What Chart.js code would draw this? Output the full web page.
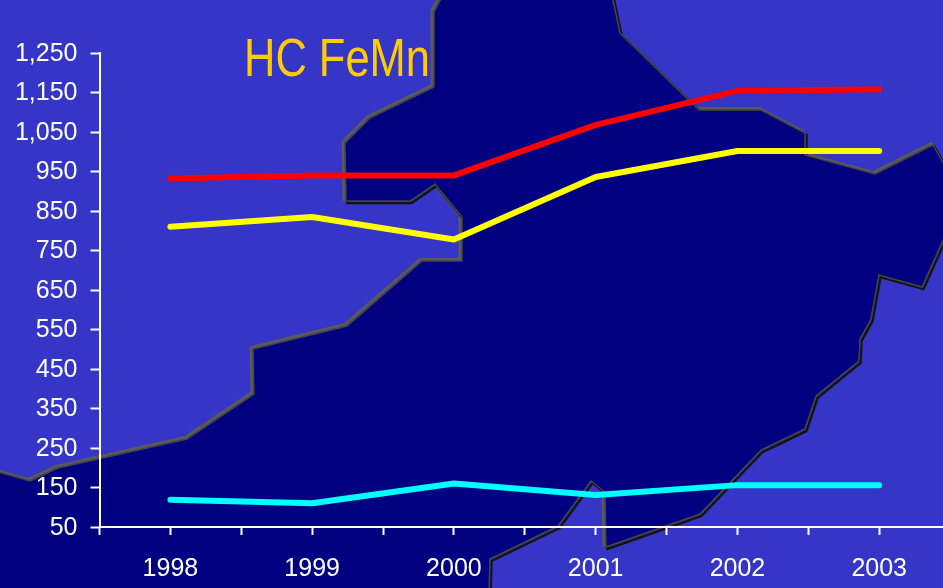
<!DOCTYPE html>
<html>
<head>
<meta charset="utf-8">
<title>HC FeMn</title>
<script src="https://cdn.jsdelivr.net/npm/chart.js@4/dist/chart.umd.min.js"></script>
<style>
  html, body { margin: 0; padding: 0; background: #3535c8; overflow: hidden; }
  canvas { display: block; }
</style>
</head>
<body>
<canvas id="chart" width="943" height="588"></canvas>
<script>
const chartTitle = 'HC FeMn'
const years = [1998, 1999, 2000, 2001, 2002, 2003]
const redSeries = [932, 940, 940, 1068, 1154, 1158]
const yellowSeries = [810, 835, 778, 936, 1002, 1002]
const cyanSeries = [119, 110, 160, 131, 156, 156]

// backdrop map, in canvas pixels (decoration only, not data)
const mapOutline = [
  [443,-5],[434,12],[434,87],[370,118],[345,143],[346,201],[410,201],[435,184],[462,217],[462,261],
  [422,261],[347,326],[253,349],[254,394],[187,439],[58,468],[30,481],[-5,471],[-5,595],[489,595],
  [490,559],[558,526],[591,481],[605,492],[606,547],[700,514],[761,450],[805,429],[816,396],[859,361],
  [860,339],[871,319],[879,275],[922,287],[950,225],[950,175],[933,145],[875,174],[805,155],[805,133],
  [761,110],[699,110],[620,33],[612,-5]
]

function tracePath(ctx, dx, dy) {
  ctx.beginPath()
  mapOutline.forEach(([x, y], i) => {
    if (i === 0) ctx.moveTo(x + dx, y + dy)
    else ctx.lineTo(x + dx, y + dy)
  })
  ctx.closePath()
}

const backdrop = {
  id: 'backdrop',
  beforeDraw(chart) {
    const ctx = chart.ctx
    ctx.save()
    ctx.fillStyle = '#3535c8'
    ctx.fillRect(0, 0, chart.width, chart.height)
    ctx.lineJoin = 'miter'
    // bevel: grey on the upper left, near black on the lower right
    ctx.strokeStyle = '#5a5a5a'
    ctx.lineWidth = 3
    tracePath(ctx, -2, -1.5)
    ctx.stroke()
    ctx.strokeStyle = '#141414'
    ctx.lineWidth = 2.5
    tracePath(ctx, 1.5, 2)
    ctx.stroke()
    ctx.fillStyle = '#000080'
    tracePath(ctx, 0, 0)
    ctx.fill()
    ctx.strokeStyle = '#454545'
    ctx.lineWidth = 1.5
    ctx.stroke()
    ctx.restore()
  }
}

const titleText = {
  id: 'titleText',
  afterDraw(chart) {
    const ctx = chart.ctx
    ctx.save()
    ctx.fillStyle = '#ffcc00'
    ctx.font = '53px "Liberation Sans", sans-serif'
    ctx.textAlign = 'left'
    ctx.textBaseline = 'alphabetic'
    // the original face is a narrow one
    ctx.translate(244, 76)
    ctx.scale(0.82, 1)
    ctx.fillText(chartTitle, 0, 0)
    ctx.restore()
  }
}

function makeLine(label, values, colour) {
  return {
    label: label,
    data: years.map((yr, i) => ({x: yr, y: values[i]})),
    borderColor: colour,
    backgroundColor: colour,
    borderWidth: 6,
    borderCapStyle: 'round',
    borderJoinStyle: 'round',
    pointRadius: 0,
    tension: 0,
    fill: false
  }
}

new Chart(document.getElementById('chart'), {
  type: 'line',
  plugins: [backdrop, titleText],
  data: {
    datasets: [
      makeLine('Red', redSeries, '#ff0000'),
      makeLine('Yellow', yellowSeries, '#ffff00'),
      makeLine('Cyan', cyanSeries, '#00ffff')
    ]
  },
  options: {
    responsive: false,
    animation: false,
    layout: {padding: {top: 53, right: 0, bottom: 0, left: 0}},
    plugins: {legend: {display: false}, title: {display: false}, tooltip: {enabled: false}},
    scales: {
      x: {
        type: 'linear',
        min: 1997.5,
        max: 2003.45,
        afterFit(scale) { scale.height = 61 },
        border: {color: '#ffffff', width: 2},
        grid: {drawOnChartArea: false, color: '#ffffff', tickLength: 8, tickWidth: 2},
        ticks: {
          stepSize: 0.5,
          includeBounds: false,
          autoSkip: false,
          maxRotation: 0,
          padding: 19,
          color: '#ffffff',
          font: {family: '"Liberation Sans"', size: 25},
          callback: v => Number.isInteger(v) ? String(v) : ''
        }
      },
      y: {
        type: 'linear',
        min: 50,
        max: 1250,
        afterFit(scale) { scale.width = 99.5 },
        border: {color: '#ffffff', width: 2},
        grid: {drawOnChartArea: false, color: '#ffffff', tickLength: 9, tickWidth: 2},
        ticks: {
          stepSize: 100,
          padding: 13,
          labelOffset: 1,
          color: '#ffffff',
          font: {family: '"Liberation Sans"', size: 25},
          callback: v => v.toLocaleString('en-US')
        }
      }
    }
  }
})
</script>
</body>
</html>
